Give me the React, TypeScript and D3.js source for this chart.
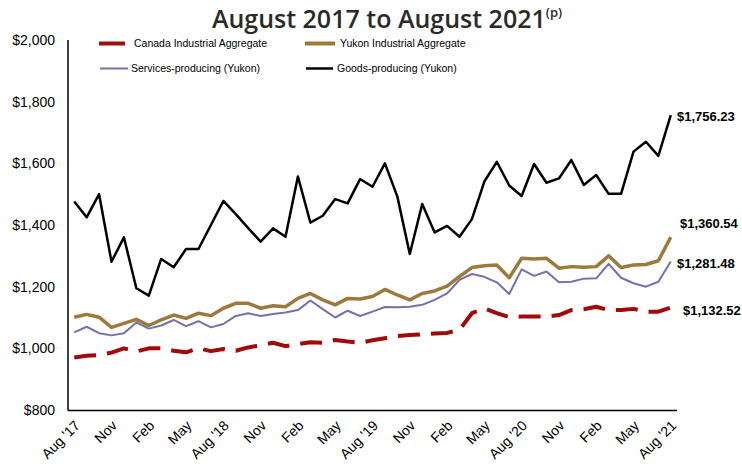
import React from "react";
import * as d3 from "d3";

const tickLabels = ["Aug '17","Nov","Feb","May","Aug '18","Nov","Feb","May","Aug '19","Nov","Feb","May","Aug '20","Nov","Feb","May","Aug '21"];

const goods = [1476,1425,1500,1281,1360,1195,1171,1290,1263,1322,1322,1400,1478,1435,1390,1346,1389,1362,1557,1408,1430,1484,1470,1549,1524,1600,1492,1306,1468,1376,1397,1362,1419,1541,1605,1528,1494,1598,1537,1551,1611,1530,1562,1501,1501,1638,1670,1624,1756.23];
const yukon = [1101,1110,1101,1068,1081,1094,1074,1092,1108,1097,1114,1106,1130,1146,1146,1130,1138,1135,1162,1178,1157,1141,1162,1160,1168,1191,1173,1157,1178,1186,1202,1233,1262,1268,1270,1229,1292,1290,1292,1260,1265,1263,1265,1300,1262,1270,1272,1284,1360.54];
const services = [1052,1070,1049,1042,1049,1084,1064,1074,1092,1072,1088,1068,1079,1105,1114,1105,1111,1116,1124,1155,1127,1100,1122,1105,1119,1134,1133,1135,1141,1157,1178,1222,1241,1232,1214,1176,1256,1235,1249,1214,1216,1226,1227,1274,1229,1211,1200,1216,1281.48];
const canada = [970,976,978,986,1000,990,1000,1000,992,987,1000,991,998,992,1003,1010,1018,1007,1014,1020,1018,1027,1022,1018,1026,1033,1040,1043,1045,1048,1050,1060,1114,1130,1114,1101,1103,1103,1103,1108,1124,1127,1135,1124,1124,1128,1119,1119,1132.52];
const yTicks = [800,1000,1200,1400,1600,1800,2000];
const endLabels = ["$1,756.23","$1,360.54","$1,281.48","$1,132.52"];

const seriesNames = ["Canada Industrial Aggregate","Yukon Industrial Aggregate","Services-producing (Yukon)","Goods-producing (Yukon)"];

export default function App() {
  const W = 742, H = 466;
  const left = 68, right = 677, top = 40, bottom = 410;
  const idx = d3.range(goods.length);
  const x = d3.scaleBand<number>().domain(idx).range([left, right]).padding(0);
  const cx = (i: number) => (x(i) as number) + x.bandwidth() / 2;
  const y = d3.scaleLinear().domain([800, 2000]).range([bottom, top]);
  const line = d3.line<number>().x((_, i) => cx(i)).y((d) => y(d));
  const font = "'Liberation Sans', Arial, sans-serif";
  const series = [
    { data: canada, color: "#a00a0a", width: 4, dash: "22,11", label: endLabels[3], lx: 683, ly: 310 },
    { data: yukon, color: "#9c7a3c", width: 3.5, dash: undefined, label: endLabels[1], lx: 680, ly: 223 },
    { data: services, color: "#7571ab", width: 2, dash: undefined, label: endLabels[2], lx: 677, ly: 263 },
    { data: goods, color: "#000000", width: 2.5, dash: undefined, label: endLabels[0], lx: 677, ly: 116 },
  ];
  const legend = [
    { name: seriesNames[0], color: "#a00a0a", w: 4, x1: 99, x2: 125, tx: 134, y: 43.5 },
    { name: seriesNames[1], color: "#9c7a3c", w: 4, x1: 305, x2: 335, tx: 340, y: 43.5 },
    { name: seriesNames[2], color: "#7571ab", w: 2, x1: 100, x2: 128, tx: 131, y: 68.5 },
    { name: seriesNames[3], color: "#000000", w: 2.5, x1: 306, x2: 333, tx: 337, y: 68.5 },
  ];
  return (
    <svg width={W} height={H} style={{ position: "absolute", left: 0, top: 0, background: "#fff" }} fontFamily={font}>
      <text x={387} y={28} textAnchor="middle" fontFamily="'Open Sans', sans-serif" fontWeight={600} fontSize={25} fill="#2a2a2a">
        August 2017 to August 2021
        <tspan fontSize={13} dy={-11}>(p)</tspan>
      </text>
      {yTicks.map((t) => (
        <text key={t} x={55} y={y(t)} dy="0.35em" textAnchor="end" fontSize={14} fill="#000">
          {d3.format("$,")(t)}
        </text>
      ))}
      {tickLabels.map((t, k) => {
        const px = cx(k * 3);
        return (
          <text key={k} transform={`translate(${px + 3},${bottom + 13}) rotate(-45)`} textAnchor="end" dy="0.35em" fontSize={14} fill="#000">
            {t}
          </text>
        );
      })}
      <line x1={left} x2={left} y1={top} y2={bottom + 0.5} stroke="#000" strokeWidth={1.5} />
      <line x1={left} x2={right} y1={bottom + 0.5} y2={bottom + 0.5} stroke="#000" strokeWidth={1.5} />
      {series.map((s, k) => (
        <path key={k} d={line(s.data) || ""} fill="none" stroke={s.color} strokeWidth={s.width} strokeDasharray={s.dash} strokeLinejoin="round" />
      ))}
      {series.map((s, k) => (
        <text key={"l" + k} x={s.lx} y={s.ly} dy="0.35em" fontSize={13} fontWeight="bold" fill="#000">{s.label}</text>
      ))}
      {legend.map((l, k) => (
        <g key={"g" + k}>
          <line x1={l.x1} x2={l.x2} y1={l.y} y2={l.y} stroke={l.color} strokeWidth={l.w} />
          <text x={l.tx} y={l.y} dy="0.35em" fontSize={10.5} fill="#000">{l.name}</text>
        </g>
      ))}
    </svg>
  );
}
